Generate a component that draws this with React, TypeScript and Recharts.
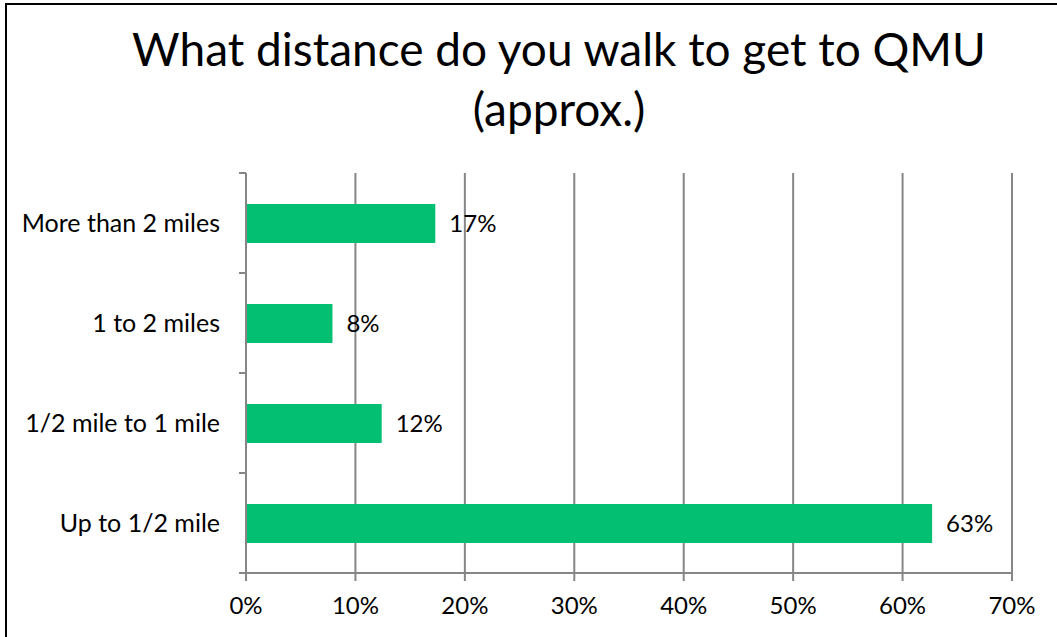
import { Bar, BarChart, CartesianGrid, LabelList, XAxis, YAxis } from "recharts";

const categories = ["More than 2 miles", "1 to 2 miles", "1/2 mile to 1 mile", "Up to 1/2 mile"];
const shares = [17.3, 7.9, 12.4, 62.7];
const xTicks = [0, 10, 20, 30, 40, 50, 60, 70];

const data = categories.map((name, i) => ({ name, value: shares[i] }));

const FONT = "Lato, 'Open Sans', sans-serif";
const AXIS = "#868686";
const PLOT_H = 400;
const HALF_BAND = PLOT_H / categories.length / 2;

function CategoryTick(props: any) {
  const { x, y, payload, index } = props;
  const last = index === categories.length - 1;
  return (
    <g>
      <text x={x - 26} y={y} dy="0.35em" textAnchor="end" fill="#000" fontSize={25} fontFamily={FONT}>
        {payload.value}
      </text>
      <line x1={x - 7} x2={x} y1={y - HALF_BAND} y2={y - HALF_BAND} stroke={AXIS} strokeWidth={2} />
      {last && <line x1={x - 7} x2={x} y1={y + HALF_BAND} y2={y + HALF_BAND} stroke={AXIS} strokeWidth={2} />}
    </g>
  );
}

export default function App() {
  return (
    <div style={{ position: "fixed", left: 0, top: 0, width: 1057, height: 637, background: "#fff", overflow: "hidden" }}>
      <div
        style={{
          position: "absolute",
          left: 5,
          top: 3,
          width: 1200,
          height: 800,
          borderLeft: "2px solid #000",
          borderTop: "2px solid #000"
        }}
      />
      <div
        style={{
          position: "absolute",
          left: 59,
          width: 1000,
          top: 19,
          textAlign: "center",
          fontFamily: FONT,
          fontSize: 46,
          lineHeight: "60px",
          color: "#000"
        }}
      >
        What distance do you walk to get to QMU
        <br />
        (approx.)
      </div>
      <BarChart
        width={1057}
        height={637}
        data={data}
        layout="vertical"
        margin={{ top: 173, right: 45, bottom: 0, left: 0 }}
        style={{ position: "absolute", left: 0, top: 0 }}
      >
        <CartesianGrid horizontal={false} vertical stroke={AXIS} strokeWidth={2} />
        <XAxis
          type="number"
          domain={[0, 70]}
          ticks={xTicks}
          interval={0}
          tickFormatter={(v: number) => `${v}%`}
          tick={{ fill: "#000", fontSize: 24, fontFamily: FONT }}
          tickSize={8}
          tickMargin={16}
          tickLine={{ stroke: AXIS, strokeWidth: 2 }}
          axisLine={{ stroke: AXIS, strokeWidth: 2 }}
          height={64}
        />
        <YAxis
          type="category"
          dataKey="name"
          width={246}
          tickSize={0}
          tickMargin={0}
          tickLine={false}
          tick={<CategoryTick />}
          axisLine={{ stroke: AXIS, strokeWidth: 2 }}
        />
        <Bar dataKey="value" fill="#02BF71" barSize={39} isAnimationActive={false}>
          <LabelList
            dataKey="value"
            position="right"
            offset={14}
            formatter={(v: number) => `${Math.round(v)}%`}
            fill="#000"
            fontSize={24}
            fontFamily={FONT}
          />
        </Bar>
      </BarChart>
    </div>
  );
}
